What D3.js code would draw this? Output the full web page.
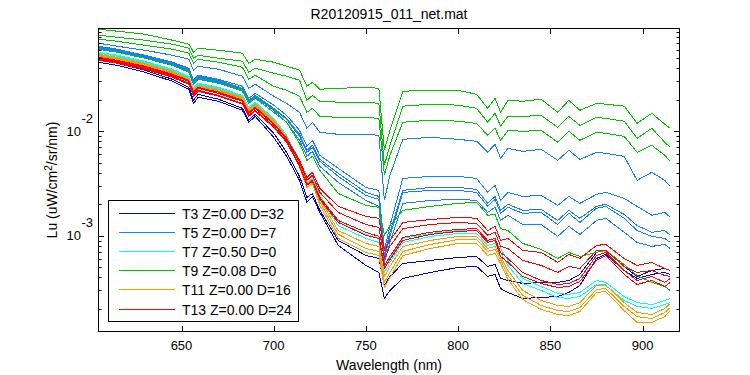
<!DOCTYPE html>
<html>
<head>
<meta charset="utf-8">
<script src="https://cdnjs.cloudflare.com/ajax/libs/d3/7.8.5/d3.min.js"></script>
<style>
  body { margin: 0; background: #fff; }
  text { font-family: "Liberation Sans", Arial, sans-serif; fill: #000; }
</style>
</head>
<body>
<script>
const wl = [605, 615, 630, 645, 654, 656.5, 659, 670, 683, 686.5,
            690, 700, 707, 714, 718, 721, 725, 735, 750, 757,
            760, 763, 770, 785, 800, 810, 816, 820, 823, 827,
            835, 845, 854, 860, 866, 875, 880, 890, 897, 905,
            912, 915];

// Lu values in 1e-3 uW/cm2/sr/nm, one array per cast
const t3 = [
  [47.9, 44.9, 38.5, 31.5, 26.4, 19.8, 22.6, 20.3, 16.6, 12.8,
   14.6, 9.57, 6.29, 3.70, 2.33, 2.54, 1.75, 0.901, 0.647, 0.606,
   0.334, 0.407, 0.543, 0.580, 0.619, 0.633, 0.508, 0.531, 0.390, 0.373,
   0.349, 0.357, 0.357, 0.373, 0.426, 0.692, 0.723, 0.508, 0.407, 0.465,
   0.486, 0.465],
  [45.9, 42.9, 36.8, 30.2, 25.3, 18.5, 21.2, 19.4, 15.9, 12.2,
   13.9, 8.76, 5.76, 3.39, 2.09, 2.38, 1.67, 0.807, 0.519, 0.445,
   0.251, 0.299, 0.390, 0.445, 0.497, 0.508, 0.407, 0.426, 0.312, 0.286,
   0.251, 0.256, 0.262, 0.286, 0.334, 0.606, 0.662, 0.465, 0.390, 0.426,
   0.445, 0.426]
];

const t5 = [
  [69.8, 65.3, 59.8, 53.5, 49.0, 38.5, 42.0, 39.3, 33.7, 25.8,
   28.2, 21.7, 18.5, 15.2, 10.7, 12.2, 9.78, 9.36, 9.36, 9.15,
   2.18, 3.79, 8.38, 8.76, 8.38, 8.02, 6.29, 7.51, 5.51, 6.87,
   6.43, 6.72, 5.27, 6.58, 5.39, 6.29, 6.15, 5.76, 3.39, 4.05,
   3.39, 2.97],
  [65.3, 61.1, 53.5, 45.9, 40.2, 30.8, 34.4, 31.5, 27.0, 20.7,
   23.1, 17.8, 14.2, 10.2, 7.18, 8.20, 5.89, 4.42, 2.90, 2.72,
   0.723, 1.25, 3.54, 3.70, 3.70, 3.54, 2.60, 3.04, 2.18, 2.60,
   2.38, 2.43, 1.95, 2.38, 2.04, 2.49, 2.60, 2.28, 1.91, 1.57,
   1.67, 1.50],
  [63.9, 59.8, 52.4, 44.9, 39.3, 30.2, 33.7, 30.8, 25.8, 19.8,
   22.1, 16.6, 13.3, 9.36, 6.58, 7.34, 5.39, 3.96, 2.60, 2.38,
   0.647, 1.08, 2.72, 2.90, 2.90, 2.78, 2.04, 2.38, 1.75, 2.00,
   1.75, 1.79, 1.40, 1.75, 1.47, 1.91, 2.00, 1.60, 1.25, 1.08,
   1.12, 1.01],
  [62.5, 58.5, 51.2, 43.9, 38.5, 29.5, 33.0, 30.2, 25.3, 19.4,
   21.7, 16.3, 13.0, 8.96, 6.29, 7.02, 5.16, 3.70, 2.43, 2.23,
   0.606, 0.985, 2.60, 2.72, 2.72, 2.60, 1.91, 2.23, 1.64, 1.87,
   1.64, 1.67, 1.28, 1.64, 1.34, 1.83, 1.91, 1.47, 1.12, 0.985,
   0.942, 0.863],
  [61.1, 57.2, 50.1, 42.9, 36.8, 28.2, 31.5, 28.9, 24.2, 18.5,
   20.7, 15.2, 12.2, 8.20, 5.76, 6.43, 4.62, 3.24, 2.18, 1.91,
   0.555, 0.863, 2.04, 2.18, 2.23, 2.18, 1.67, 1.87, 1.40, 1.57,
   1.28, 1.28, 0.985, 1.23, 1.03, 1.40, 1.47, 1.08, 0.863, 0.790,
   0.825, 0.755]
];

const t7 = [
  [57.2, 53.5, 46.9, 39.3, 33.7, 25.8, 28.9, 26.4, 22.1, 17.0,
   19.0, 13.3, 9.15, 5.27, 3.39, 3.70, 2.43, 1.34, 1.03, 0.942,
   0.486, 0.606, 0.942, 1.05, 1.12, 1.12, 0.863, 0.901, 0.755, 0.580,
   0.390, 0.327, 0.280, 0.274, 0.286, 0.373, 0.357, 0.262, 0.229, 0.219,
   0.240, 0.251],
  [56.0, 52.4, 45.9, 38.5, 33.0, 25.3, 28.2, 25.8, 21.7, 16.6,
   18.5, 13.0, 8.76, 5.05, 3.24, 3.54, 2.28, 1.25, 0.942, 0.863,
   0.445, 0.555, 0.863, 0.985, 1.05, 1.05, 0.807, 0.844, 0.692, 0.519,
   0.349, 0.299, 0.256, 0.251, 0.262, 0.341, 0.334, 0.240, 0.210, 0.201,
   0.219, 0.229]
];

const t9 = [
  [95.1, 91.0, 85.1, 74.6, 68.3, 57.2, 62.5, 59.8, 56.0, 44.9,
   49.0, 45.9, 42.0, 38.5, 27.0, 29.5, 25.3, 25.8, 26.4, 25.8,
   6.58, 10.2, 24.2, 24.7, 24.7, 22.6, 16.6, 20.7, 15.2, 19.8,
   19.4, 20.3, 15.2, 19.8, 15.9, 18.5, 18.2, 17.4, 11.9, 14.9,
   11.7, 10.7],
  [83.2, 79.6, 74.6, 68.3, 62.5, 50.1, 53.5, 50.1, 46.9, 36.8,
   40.2, 36.0, 33.7, 30.8, 19.8, 22.1, 19.4, 19.0, 19.0, 18.5,
   4.72, 7.34, 17.4, 18.2, 17.8, 16.6, 12.2, 14.9, 11.2, 13.9,
   13.9, 14.2, 10.9, 13.9, 11.4, 13.6, 13.3, 12.5, 8.57, 10.7,
   7.85, 7.02],
  [76.2, 72.9, 66.8, 61.1, 56.0, 44.9, 49.0, 45.9, 41.1, 31.5,
   34.4, 27.0, 24.7, 21.7, 15.2, 16.6, 13.9, 13.6, 13.6, 13.3,
   3.79, 5.89, 12.2, 12.8, 12.5, 11.9, 9.15, 10.7, 8.20, 10.2,
   10.0, 10.2, 7.85, 10.0, 8.20, 9.78, 9.57, 8.96, 6.29, 7.34,
   5.89, 5.16],
  [61.1, 57.2, 50.1, 42.9, 37.6, 29.5, 32.2, 29.5, 24.7, 19.0,
   21.2, 15.9, 12.2, 7.67, 5.27, 5.76, 4.23, 2.54, 1.95, 1.87,
   1.01, 1.25, 1.75, 1.91, 2.04, 2.09, 1.57, 1.60, 1.17, 1.12,
   0.844, 0.739, 0.606, 0.692, 0.633, 0.692, 0.723, 0.531, 0.416, 0.357,
   0.327, 0.299]
];

const t11 = [
  [54.7, 51.2, 44.9, 37.6, 32.2, 24.7, 27.6, 25.3, 21.2, 16.3,
   18.2, 12.8, 8.76, 4.93, 3.17, 3.47, 2.23, 1.12, 0.844, 0.790,
   0.407, 0.508, 0.790, 0.901, 0.985, 0.985, 0.755, 0.790, 0.633, 0.465,
   0.299, 0.240, 0.215, 0.210, 0.229, 0.334, 0.341, 0.229, 0.184, 0.176,
   0.201, 0.224],
  [53.5, 50.1, 43.9, 36.8, 31.5, 24.2, 27.0, 24.7, 20.7, 15.9,
   17.8, 12.5, 8.38, 4.72, 3.04, 3.32, 2.09, 1.03, 0.755, 0.707,
   0.357, 0.445, 0.707, 0.825, 0.921, 0.921, 0.707, 0.739, 0.592, 0.416,
   0.268, 0.215, 0.192, 0.188, 0.205, 0.306, 0.312, 0.210, 0.168, 0.161,
   0.184, 0.205],
  [52.4, 49.0, 42.9, 36.0, 30.8, 23.7, 26.4, 24.2, 20.3, 15.6,
   17.4, 12.2, 8.02, 4.52, 2.90, 3.17, 1.95, 0.942, 0.692, 0.647,
   0.319, 0.398, 0.647, 0.755, 0.844, 0.844, 0.647, 0.677, 0.543, 0.381,
   0.245, 0.197, 0.176, 0.172, 0.188, 0.286, 0.292, 0.192, 0.148, 0.148,
   0.168, 0.192]
];

const t13 = [
  [51.2, 47.9, 42.0, 35.2, 30.8, 23.7, 26.4, 23.7, 19.8, 15.2,
   17.0, 11.9, 8.57, 5.27, 3.62, 4.05, 2.84, 1.91, 1.53, 1.47,
   0.723, 0.901, 1.34, 1.43, 1.50, 1.47, 1.12, 1.23, 0.901, 0.942,
   0.723, 0.692, 0.555, 0.662, 0.606, 0.807, 0.825, 0.606, 0.519, 0.555,
   0.486, 0.465],
  [50.1, 46.9, 41.1, 34.4, 30.2, 23.1, 25.8, 23.1, 19.4, 14.9,
   16.6, 11.7, 8.38, 5.05, 3.39, 3.79, 2.60, 1.67, 1.28, 1.20,
   0.606, 0.790, 1.17, 1.28, 1.34, 1.31, 1.01, 1.08, 0.790, 0.755,
   0.580, 0.519, 0.445, 0.508, 0.486, 0.723, 0.723, 0.508, 0.445, 0.465,
   0.416, 0.407],
  [49.0, 45.9, 40.2, 33.7, 28.9, 22.1, 24.7, 22.1, 18.5, 14.2,
   15.9, 11.2, 8.02, 4.72, 3.10, 3.39, 2.33, 1.40, 1.08, 0.985,
   0.519, 0.633, 0.963, 1.08, 1.15, 1.17, 0.901, 0.942, 0.692, 0.606,
   0.445, 0.373, 0.341, 0.349, 0.390, 0.647, 0.692, 0.465, 0.373, 0.407,
   0.357, 0.390],
  [47.9, 44.9, 39.3, 33.0, 28.2, 21.7, 24.2, 21.7, 18.2, 13.9,
   15.6, 10.9, 7.85, 4.62, 3.04, 3.32, 2.23, 1.34, 1.01, 0.942,
   0.486, 0.592, 0.901, 1.03, 1.10, 1.12, 0.863, 0.901, 0.633, 0.555,
   0.407, 0.349, 0.319, 0.327, 0.365, 0.580, 0.647, 0.426, 0.341, 0.373,
   0.327, 0.357]
];

const unit = 1e-3;
const groups = [t3, t5, t7, t9, t11, t13];
const legendLabels = ['T3 Z=0.00 D=32', 'T5 Z=0.00 D=7', 'T7 Z=0.50 D=0',
                      'T9 Z=0.08 D=0', 'T11 Z=0.00 D=16', 'T13 Z=0.00 D=24'];
const colors = ['#0000e0', '#1480ff', '#00ffff', '#00c400', '#ff9900', '#ff0000'];
const xTicks = [650, 700, 750, 800, 850, 900];
const yMajor = [1e-3, 1e-2];
const yMajorExp = ['-3', '-2'];

const width = 750, height = 375;
const L = 98.5, R = 679.5, T = 28.5, B = 331.5;

const svg = d3.select('body').append('svg')
    .attr('width', width)
    .attr('height', height);

svg.append('rect')
    .attr('width', width).attr('height', height)
    .attr('fill', '#fff');

const x = d3.scaleLinear().domain([605, 920]).range([L, R]);
const y = d3.scaleLog().domain([1.21e-4, 0.0965]).range([B, T]);

svg.append('clipPath').attr('id', 'plot')
  .append('rect')
    .attr('x', L).attr('y', T)
    .attr('width', R - L).attr('height', B - T);

// spectra, aliased like the original figure
const line = d3.line()
    .x((d, i) => x(wl[i]))
    .y(d => y(d * unit));

const gLines = svg.append('g').attr('clip-path', 'url(#plot)');
groups.forEach((grp, gi) => {
  grp.forEach(s => {
    gLines.append('path')
        .attr('d', line(s))
        .attr('fill', 'none')
        .attr('stroke', colors[gi])
        .attr('stroke-width', 1)
        .attr('shape-rendering', 'crispEdges');
  });
});

// box
svg.append('rect')
    .attr('x', L).attr('y', T)
    .attr('width', R - L).attr('height', B - T)
    .attr('fill', 'none')
    .attr('stroke', '#000');

// x ticks (inside, top and bottom)
const gx = svg.append('g');
xTicks.forEach(t => {
  const xp = Math.round(x(t)) + 0.5;
  gx.append('line').attr('x1', xp).attr('x2', xp).attr('y1', B).attr('y2', B - 5.5).attr('stroke', '#000');
  gx.append('line').attr('x1', xp).attr('x2', xp).attr('y1', T).attr('y2', T + 5.5).attr('stroke', '#000');
  gx.append('text')
      .attr('x', x(t)).attr('y', 350)
      .attr('text-anchor', 'middle')
      .style('font-size', '13px')
      .text(t);
});

// y ticks: majors + minors on both sides
const yMinor = [];
[1e-4, 1e-3, 1e-2].forEach(dec => {
  for (let k = 2; k <= 9; k++) {
    const v = k * dec;
    if (v > y.domain()[0] && v < y.domain()[1]) yMinor.push(v);
  }
});
const gy = svg.append('g');
yMinor.forEach(v => {
  const yp = Math.round(y(v)) + 0.5;
  gy.append('line').attr('x1', L).attr('x2', L + 3).attr('y1', yp).attr('y2', yp).attr('stroke', '#000');
  gy.append('line').attr('x1', R).attr('x2', R - 3).attr('y1', yp).attr('y2', yp).attr('stroke', '#000');
});
yMajor.forEach((v, i) => {
  const yp = Math.round(y(v)) + 0.5;
  gy.append('line').attr('x1', L).attr('x2', L + 5.5).attr('y1', yp).attr('y2', yp).attr('stroke', '#000');
  gy.append('line').attr('x1', R).attr('x2', R - 5.5).attr('y1', yp).attr('y2', yp).attr('stroke', '#000');
  gy.append('text')
      .attr('x', 81).attr('y', y(v) + 4.5)
      .attr('text-anchor', 'end')
      .style('font-size', '13px')
      .text('10');
  gy.append('text')
      .attr('x', 81.5).attr('y', y(v) - 8.5)
      .attr('text-anchor', 'start')
      .style('font-size', '13px')
      .text(yMajorExp[i]);
});

// title and axis labels
svg.append('text')
    .attr('x', (L + R) / 2).attr('y', 18.5)
    .attr('text-anchor', 'middle')
    .style('font-size', '14px')
    .text('R20120915_011_net.mat');

svg.append('text')
    .attr('x', (L + R) / 2).attr('y', 370)
    .attr('text-anchor', 'middle')
    .style('font-size', '14px')
    .text('Wavelength (nm)');

const yl = svg.append('text')
    .attr('transform', 'translate(57,' + ((T + B) / 2) + ') rotate(-90)')
    .attr('text-anchor', 'middle')
    .style('font-size', '14px');
yl.append('tspan').text('Lu (uW/cm');
yl.append('tspan').attr('dy', -5).style('font-size', '10px').text('2');
yl.append('tspan').attr('dy', 5).text('/sr/nm)');

// legend
const lg = svg.append('g');
lg.append('rect')
    .attr('x', 108.5).attr('y', 200.5)
    .attr('width', 190).attr('height', 121)
    .attr('fill', '#fff')
    .attr('stroke', '#000');
legendLabels.forEach((lab, i) => {
  const ly = Math.round(213 + i * 19.1) + 0.5;
  lg.append('line')
      .attr('x1', 119).attr('x2', 175)
      .attr('y1', ly).attr('y2', ly)
      .attr('stroke', colors[i]);
  lg.append('text')
      .attr('x', 182).attr('y', ly + 5)
      .style('font-size', '14px')
      .text(lab);
});
</script>
</body>
</html>
